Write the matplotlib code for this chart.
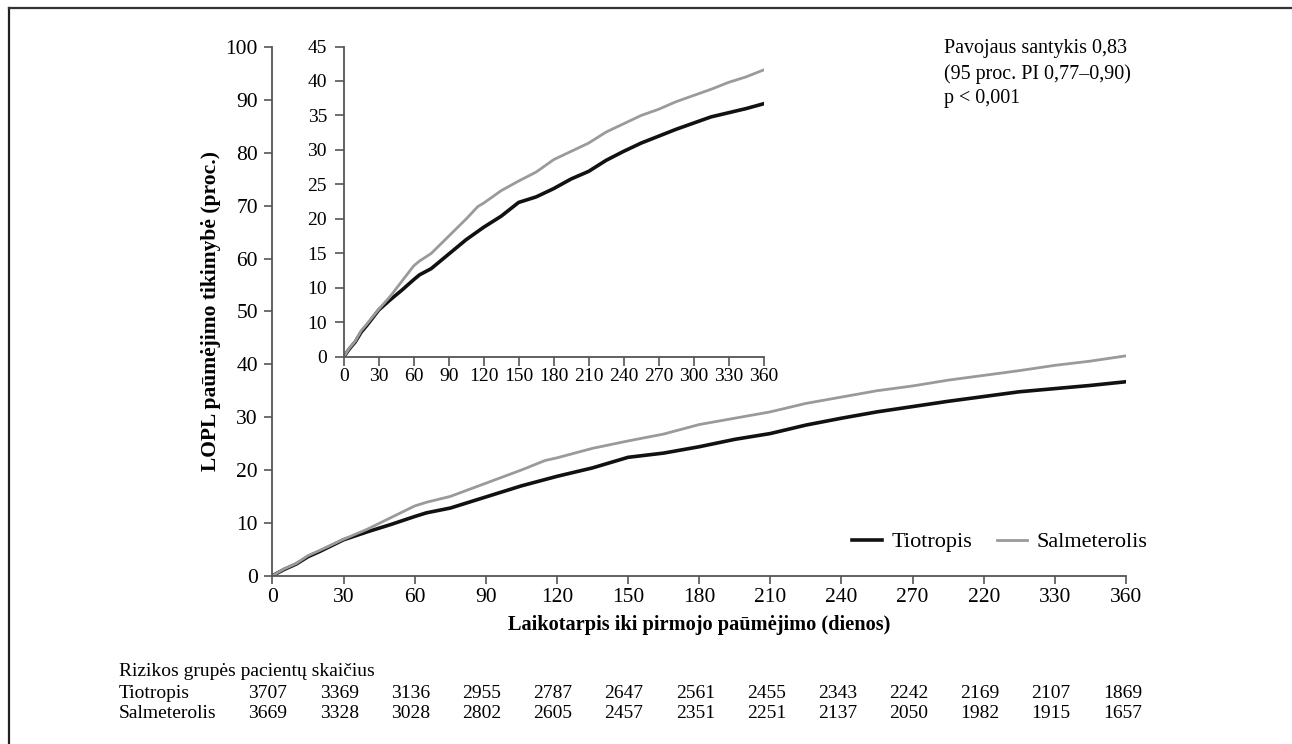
import matplotlib
matplotlib.use("Agg")
import matplotlib.pyplot as plt
from matplotlib.lines import Line2D

plt.rcParams['font.family'] = ['Liberation Serif', 'DejaVu Serif']

# KM curves (days -> cumulative probability, %)
days = [0, 5, 10, 15, 20, 30, 40, 45, 50, 60, 65, 75, 90, 105, 115, 120, 135,
        150, 165, 180, 195, 210, 225, 240, 255, 270, 285, 300, 315, 330, 345, 360]
tiotropis = [0, 1.2, 2.2, 3.6, 4.6, 6.8, 8.3, 9.0, 9.7, 11.2, 11.9, 12.8, 14.9,
             17.0, 18.2, 18.8, 20.4, 22.4, 23.2, 24.4, 25.8, 26.9, 28.5, 29.8,
             31.0, 32.0, 33.0, 33.9, 34.8, 35.4, 36.0, 36.7]
salmeterolis = [0, 1.3, 2.3, 3.8, 4.8, 6.9, 8.8, 9.9, 11.0, 13.2, 13.9, 15.0, 17.5,
                20.0, 21.8, 22.3, 24.1, 25.5, 26.8, 28.6, 29.8, 31.0, 32.6, 33.8,
                35.0, 35.9, 37.0, 37.9, 38.8, 39.8, 40.6, 41.6]

main_xticks = [0, 30, 60, 90, 120, 150, 180, 210, 240, 270, 300, 330, 360]
main_xlabels = ["0", "30", "60", "90", "120", "150", "180", "210", "240", "270", "220", "330", "360"]
main_yticks = [0, 10, 20, 30, 40, 50, 60, 70, 80, 90, 100]
inset_yticks = [0, 5, 10, 15, 20, 25, 30, 35, 40, 45]
inset_ylabels = ["0", "10", "10", "15", "20", "25", "30", "35", "40", "45"]

risk_tio = [3707, 3369, 3136, 2955, 2787, 2647, 2561, 2455, 2343, 2242, 2169, 2107, 1869]
risk_sal = [3669, 3328, 3028, 2802, 2605, 2457, 2351, 2251, 2137, 2050, 1982, 1915, 1657]

black = "#111111"
grey = "#9a9a9a"
spine = "#555555"
W, H = 1292, 744

fig = plt.figure(figsize=(12.92, 7.44), dpi=100)

# main axes
ax = fig.add_axes([0.2109, 0.2262, 0.6606, 0.7104])
ax.plot(days, tiotropis, color=black, lw=2.6, label="Tiotropis")
ax.plot(days, salmeterolis, color=grey, lw=2.0, label="Salmeterolis")
ax.set_xlim(0, 360)
ax.set_ylim(0, 100)
ax.set_xticks(main_xticks)
ax.set_xticklabels(main_xlabels)
ax.set_yticks(main_yticks)
for s in ["top", "right"]:
    ax.spines[s].set_visible(False)
for s in ["left", "bottom"]:
    ax.spines[s].set_color(spine)
    ax.spines[s].set_linewidth(1.3)
ax.tick_params(labelsize=15.5, length=6, width=1.2, color=spine)
ax.tick_params(axis="y", pad=4.5)
ax.tick_params(axis="x", pad=2.5)
ax.set_xlabel("Laikotarpis iki pirmojo paūmėjimo (dienos)", fontsize=14.7,
              fontweight="bold", labelpad=6)
ax.set_ylabel("LOPL paūmėjimo tikimybė (proc.)", fontsize=15.5, fontweight="bold", labelpad=3)
ax.legend(loc="center left", bbox_to_anchor=(852 / W, 1 - 542 / H),
          bbox_transform=fig.transFigure, borderpad=0, borderaxespad=0,
          ncol=2, frameon=False, fontsize=16, handlelength=1.35,
          columnspacing=1.08, handletextpad=0.45)

fig.text(944 / W, 1 - 39 / H, "Pavojaus santykis 0,83\n(95 proc. PI 0,77–0,90)\np < 0,001",
         ha="left", va="top", fontsize=14.4, linespacing=1.4)

# inset
ins = fig.add_axes([0.2660, 0.5202, 0.3250, 0.4173])
ins.plot(days, tiotropis, color=black, lw=2.6)
ins.plot(days, salmeterolis, color=grey, lw=2.0)
ins.set_xlim(0, 360)
ins.set_ylim(0, 45)
ins.set_xticks(main_xticks)
ins.set_yticks(inset_yticks)
ins.set_yticklabels(inset_ylabels)
for s in ["top", "right"]:
    ins.spines[s].set_visible(False)
for s in ["left", "bottom"]:
    ins.spines[s].set_color(spine)
    ins.spines[s].set_linewidth(1.3)
ins.tick_params(labelsize=14, length=6.5, width=1.2, color=spine)
ins.tick_params(axis="y", pad=5.5)
ins.tick_params(axis="x", pad=1.5)

# number at risk table
fs = 14
fig.text(119 / W, 1 - 671 / H, "Rizikos grupės pacientų skaičius", fontsize=fs, va="center")
fig.text(119 / W, 1 - 693 / H, "Tiotropis", fontsize=fs, va="center")
fig.text(119 / W, 1 - 714 / H, "Salmeterolis", fontsize=fs, va="center")
for i, (a, b) in enumerate(zip(risk_tio, risk_sal)):
    x = (268 + i * 71.2) / W
    fig.text(x, 1 - 693 / H, str(a), fontsize=fs, va="center", ha="center")
    fig.text(x, 1 - 714 / H, str(b), fontsize=fs, va="center", ha="center")

# outer frame (top and left edge)
fig.add_artist(Line2D([9 / W, 9 / W], [0, 1 - 8 / H], color="#222222", lw=1.6,
                      transform=fig.transFigure))
fig.add_artist(Line2D([9 / W, 1], [1 - 8 / H, 1 - 8 / H], color="#333333", lw=1.6,
                      transform=fig.transFigure))

fig.savefig("out.png", dpi=100)
